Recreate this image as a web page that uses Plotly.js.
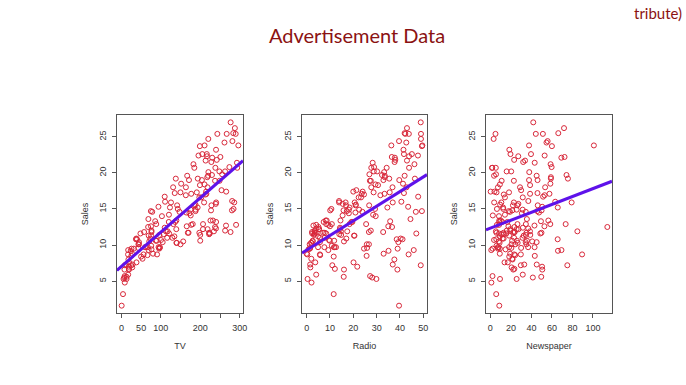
<!DOCTYPE html>
<html>
<head>
<meta charset="utf-8">
<script src="https://cdn.plot.ly/plotly-3.0.1.min.js"></script>
<style>html,body{margin:0;padding:0;background:#fff;}#chart{width:686px;height:385px;}</style>
</head>
<body>
<div id="chart"></div>
<script>
// Advertising data (200 markets)
const tv = [230.1,44.5,17.2,151.5,180.8,8.7,57.5,120.2,8.6,199.8,66.1,214.7,23.8,97.5,204.1,195.4,67.8,281.4,69.2,147.3,218.4,237.4,13.2,228.3,62.3,262.9,142.9,240.1,248.8,70.6,292.9,112.9,97.2,265.6,95.7,290.7,266.9,74.7,43.1,228,202.5,177,293.6,206.9,25.1,175.1,89.7,239.9,227.2,66.9,199.8,100.4,216.4,182.6,262.7,198.9,7.3,136.2,210.8,210.7,53.5,261.3,239.3,102.7,131.1,69,31.5,139.3,237.4,216.8,199.1,109.8,26.8,129.4,213.4,16.9,27.5,120.5,5.4,116,76.4,239.8,75.3,68.4,213.5,193.2,76.3,110.7,88.3,109.8,134.3,28.6,217.7,250.9,107.4,163.3,197.6,184.9,289.7,135.2,222.4,296.4,280.2,187.9,238.2,137.9,25,90.4,13.1,255.4,225.8,241.7,175.7,209.6,78.2,75.1,139.2,76.4,125.7,19.4,141.3,18.8,224,123.1,229.5,87.2,7.8,80.2,220.3,59.6,0.7,265.2,8.4,219.8,36.9,48.3,25.6,273.7,43,184.9,73.4,193.7,220.5,104.6,96.2,140.3,240.1,243.2,38,44.7,280.7,121,197.6,171.3,187.8,4.1,93.9,149.8,11.7,131.7,172.5,85.7,188.4,163.5,117.2,234.5,17.9,206.8,215.4,284.3,50,164.5,19.6,168.4,222.4,276.9,248.4,170.2,276.7,165.6,156.6,218.5,56.2,287.6,253.8,205,139.5,191.1,286,18.7,39.5,75.5,17.2,166.8,149.7,38.2,94.2,177,283.6,232.1];
const radio = [37.8,39.3,45.9,41.3,10.8,48.9,32.8,19.6,2.1,2.6,5.8,24,35.1,7.6,32.9,47.7,36.6,39.6,20.5,23.9,27.7,5.1,15.9,16.9,12.6,3.5,29.3,16.7,27.1,16,28.3,17.4,1.5,20,1.4,4.1,43.8,49.4,26.7,37.7,22.3,33.4,27.7,8.4,25.7,22.5,9.9,41.5,15.8,11.7,3.1,9.6,41.7,46.2,28.8,49.4,28.1,19.2,49.6,29.5,2,42.7,15.5,29.6,42.8,9.3,24.6,14.5,27.5,43.9,30.6,14.3,33,5.7,24.6,43.7,1.6,28.5,29.9,7.7,26.7,4.1,20.3,44.5,43,18.4,27.5,40.6,25.5,47.8,4.9,1.5,33.5,36.5,14,31.6,3.5,21,42.3,41.7,4.3,36.3,10.1,17.2,34.3,46.4,11,0.3,0.4,26.9,8.2,38,15.4,20.6,46.8,35,14.3,0.8,36.9,16,26.8,21.7,2.4,34.6,32.3,11.8,38.9,0,49,12,39.6,2.9,27.2,33.5,38.6,47,39,28.9,25.9,43.9,17,35.4,33.2,5.7,14.8,1.9,7.3,49,40.3,25.8,13.9,8.4,23.3,39.7,21.1,11.6,43.5,1.3,36.9,18.4,18.1,35.8,18.1,36.8,14.7,3.4,37.6,5.2,23.6,10.6,11.6,20.9,20.1,7.1,3.4,48.9,30.2,7.8,2.3,10,2.6,5.4,5.7,43,21.3,45.1,2.1,28.7,13.9,12.1,41.1,10.8,4.1,42,35.6,3.7,4.9,9.3,42,8.6];
const newspaper = [69.2,45.1,69.3,58.5,58.4,75,23.5,11.6,1,21.2,24.2,4,65.9,7.2,46,52.9,114,55.8,18.3,19.1,53.4,23.5,49.6,26.2,18.3,19.5,12.6,22.9,22.9,40.8,43.2,38.6,30,0.3,7.4,8.5,5,45.7,35.1,32,31.6,38.7,1.8,26.4,43.3,31.5,35.7,18.5,49.9,36.8,34.6,3.6,39.6,58.7,15.9,60,41.4,16.6,37.7,9.3,21.4,54.7,27.3,8.4,28.9,0.9,2.2,10.2,11,27.2,38.7,31.7,19.3,31.3,13.1,89.4,20.7,14.2,9.4,23.1,22.3,36.9,32.5,35.6,33.8,65.7,16,63.2,73.4,51.4,9.3,33,59,72.3,10.9,52.9,5.9,22,51.2,45.9,49.8,100.9,21.4,17.9,5.3,59,29.7,23.2,25.6,5.5,56.5,23.2,2.4,10.7,34.5,52.7,25.6,14.8,79.2,22.3,46.2,50.4,15.6,12.4,74.2,25.9,50.6,9.2,3.2,43.1,8.7,43,2.1,45.1,65.6,8.5,9.3,59.7,20.5,1.7,12.9,75.6,37.9,34.4,38.9,9,8.7,44.3,11.9,20.6,37,48.7,14.2,37.7,9.5,5.7,50.5,24.3,45.2,34.6,30.7,49.3,25.6,7.4,5.4,84.8,21.6,19.4,57.6,6.4,18.4,47.4,17,12.8,13.1,41.8,20.3,35.2,23.7,17.6,8.3,27.4,29.7,71.8,30,19.6,26.6,18.2,3.7,23.4,5.8,6,31.6,3.6,6,13.8,8.1,6.4,66.2,8.7];
const sales = [22.1,10.4,9.3,18.5,12.9,7.2,11.8,13.2,4.8,10.6,8.6,17.4,9.2,9.7,19,22.4,12.5,24.4,11.3,14.6,18,12.5,5.6,15.5,9.7,12,15,15.9,18.9,10.5,21.4,11.9,9.6,17.4,9.5,12.8,25.4,14.7,10.1,21.5,16.6,17.1,20.7,12.9,8.5,14.9,10.6,23.2,14.8,9.7,11.4,10.7,22.6,21.2,20.2,23.7,5.5,13.2,23.8,18.4,8.1,24.2,15.7,14,18,9.3,9.5,13.4,18.9,22.3,18.3,12.4,8.8,11,17,8.7,6.9,14.2,5.3,11,11.8,12.3,11.3,13.6,21.7,15.2,12,16,12.9,16.7,11.2,7.3,19.4,22.2,11.5,16.9,11.7,15.5,25.4,17.2,11.7,23.8,14.8,14.7,20.7,19.2,7.2,8.7,5.3,19.8,13.4,21.8,14.1,15.9,14.6,12.6,12.2,9.4,15.9,6.6,15.5,7,11.6,15.2,19.7,10.6,6.6,8.8,24.7,9.7,1.6,12.7,5.7,19.6,10.8,11.6,9.5,20.8,9.6,20.7,10.9,19.2,20.1,10.4,11.4,10.3,13.2,25.4,10.9,10.1,16.1,11.6,16.6,19,15.6,3.2,15.3,10.1,7.3,12.9,14.4,13.3,14.9,18,11.9,11.9,8,12.2,17.1,15,8.4,14.5,7.6,11.7,11.5,27,20.2,11.7,11.8,12.6,10.5,12.2,8.7,26.2,17.6,22.6,10.3,17.3,15.9,6.7,10.8,9.9,5.9,19.6,17.3,7.6,9.7,12.8,25.5,13.4];

const xNames = ["TV", "Radio", "Newspaper"];
const yName = "Sales";
const tvTicks = [0,50,100,150,200,250,300];
const tvTickText = ["0","50","100","","200","","300"];
const radioTicks = [0,10,20,30,40,50];
const newsTicks = [0,20,40,60,80,100];
const salesTicks = [5,10,15,20,25];
const titleText = "Advertisement Data";
const cornerText = "tribute)";

function rng(a){const mn=Math.min(...a),mx=Math.max(...a),d=(mx-mn)*0.04;return [mn-d,mx+d];}
function fit(x,y){const n=x.length;let mx=0,my=0;for(let i=0;i<n;i++){mx+=x[i];my+=y[i];}mx/=n;my/=n;let sxy=0,sxx=0;for(let i=0;i<n;i++){sxy+=(x[i]-mx)*(y[i]-my);sxx+=(x[i]-mx)**2;}const b=sxy/sxx;return [my-b*mx,b];}

const predictors=[tv,radio,newspaper];
const ticks=[[tvTicks,tvTickText],[radioTicks,radioTicks.map(String)],[newsTicks,newsTicks.map(String)]];
const domains=[[117/686,243/686],[302/686,427/686],[486/686,612/686]];
const yRange=rng(sales);
const traces=[];
const layout={width:686,height:385,margin:{l:0,r:0,t:0,b:0},paper_bgcolor:"#fff",plot_bgcolor:"#fff",showlegend:false,
  font:{family:"Liberation Sans, Arial, sans-serif",color:"#333"},annotations:[],shapes:[]};
const axColor="#555";
const ptColor="#d8283a";
predictors.forEach((x,i)=>{
  const k=i===0?"":String(i+1);
  const xr=rng(x);
  traces.push({type:"scatter",mode:"markers",x:x,y:sales,xaxis:"x"+k,yaxis:"y"+k,
    marker:{symbol:"circle-open",size:5,color:ptColor,line:{width:1,color:ptColor}},hoverinfo:"skip"});
  const [a,b]=fit(x,sales);
  traces.push({type:"scatter",mode:"lines",x:[xr[0],xr[1]],y:[a+b*xr[0],a+b*xr[1]],xaxis:"x"+k,yaxis:"y"+k,
    line:{color:"#5e12ea",width:3},hoverinfo:"skip"});
  layout["xaxis"+k]={domain:domains[i],anchor:"y"+k,range:xr,tickmode:"array",tickvals:ticks[i][0],ticktext:ticks[i][1],
    showgrid:false,zeroline:false,showline:true,mirror:true,linecolor:axColor,linewidth:1,ticks:"outside",ticklen:4,tickcolor:axColor,
    tickfont:{size:9,color:"#333"},ticklabelstandoff:2,
    title:{text:xNames[i],font:{size:9,color:"#333"},standoff:10}};
  layout["yaxis"+k]={domain:[1-313/385,1-115/385],anchor:"x"+k,range:yRange,tickmode:"array",tickvals:salesTicks,tickangle:-90,
    showgrid:false,zeroline:false,showline:true,mirror:true,linecolor:axColor,linewidth:1,ticks:"outside",ticklen:4,tickcolor:axColor,
    tickfont:{size:9,color:"#333"},ticklabelstandoff:2,
    title:{text:yName,font:{size:9,color:"#333"},standoff:8}};
});
layout.annotations.push({xref:"paper",yref:"paper",x:357/686,y:1-35/385,xanchor:"center",yanchor:"middle",showarrow:false,
  text:titleText,font:{family:"Lato, Open Sans, sans-serif",size:20,color:"#8b1212"}});
layout.annotations.push({xref:"paper",yref:"paper",x:684/686,y:1-13/385,xanchor:"right",yanchor:"middle",showarrow:false,
  text:cornerText,font:{family:"Lato, Open Sans, sans-serif",size:15,color:"#8b1212"}});
Plotly.newPlot("chart",traces,layout,{staticPlot:true,displayModeBar:false});
</script>
</body>
</html>
